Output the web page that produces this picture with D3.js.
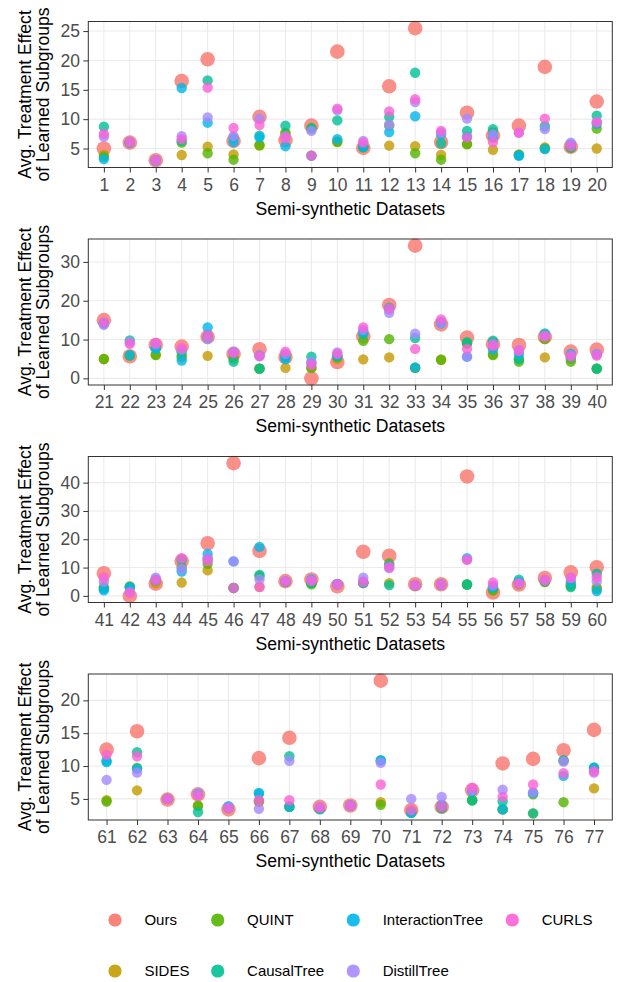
<!DOCTYPE html>
<html><head><meta charset="utf-8">
<script src="https://cdn.jsdelivr.net/npm/d3@7"></script>
<style>body{margin:0;background:#fff} text{font-family:"Liberation Sans", Arial, Helvetica, sans-serif}</style>
</head><body><svg id="c" width="624" height="982"></svg>
<script>
// ---- data ----
const methods = ["Ours","SIDES","QUINT","CausalTree","InteractionTree","DistillTree","CURLS"];
const colors  = ["#F8766D","#C49A00","#53B400","#00C094","#00B6EB","#A58AFF","#FB61D7"];
const datasets = d3.range(1, 78);
const panelRanges = [[1,20],[21,40],[41,60],[61,77]];
const yTicks = [[5,10,15,20,25],[0,10,20,30],[0,10,20,30,40],[5,10,15,20]];

const ours = [5.0,6.0,3.0,16.5,20.2,6.3,10.4,6.4,8.9,21.5,5.1,15.6,25.5,6.1,11.1,7.2,8.9,18.9,5.3,13.0,
 15.0,5.7,8.6,8.2,10.7,6.3,7.5,5.5,0.0,4.2,10.8,18.9,34.2,13.9,10.5,8.8,8.6,10.7,6.9,7.4,
 8.0,0.0,4.3,12.3,18.6,46.9,15.9,5.2,5.8,3.4,15.6,14.2,4.1,4.1,42.2,1.2,4.0,6.3,8.3,10.1,
 12.5,15.3,4.9,5.7,3.4,11.2,14.3,3.8,4.0,23.0,3.3,3.8,6.3,10.4,11.1,12.4,15.5];
const sides = [3.9,6.0,3.0,3.9,5.3,4.0,5.5,7.5,3.8,6.2,5.2,5.5,5.4,3.9,5.8,4.8,4.0,5.2,5.2,5.0,
 5.0,5.9,6.1,5.4,5.8,5.0,2.5,2.7,2.7,5.0,4.9,5.4,2.7,4.8,9.0,6.2,5.0,5.4,5.0,2.5,
 3.2,3.4,4.5,4.7,9.0,2.8,3.2,5.0,4.5,4.0,4.5,4.5,3.7,4.0,4.0,2.0,4.2,5.0,4.0,3.1,
 4.8,6.3,5.0,3.9,3.6,4.6,3.8,3.6,4.0,4.5,3.2,3.6,4.8,3.4,2.8,10.8,6.6];
const quint = [3.6,6.0,3.0,6.0,4.2,3.1,5.6,7.7,8.5,6.1,5.2,8.9,4.2,3.1,5.7,7.8,3.9,5.0,5.1,8.4,
 5.0,5.9,6.0,5.8,10.5,5.4,2.5,5.5,2.7,5.5,9.7,10.1,2.7,4.8,9.0,6.0,4.3,10.1,4.3,2.5,
 2.8,3.1,5.5,10.0,11.3,2.8,7.0,5.0,4.1,4.1,4.7,11.5,3.7,4.0,4.0,2.0,4.2,4.9,3.5,2.4,
 4.6,9.7,5.0,4.0,3.6,4.6,3.8,3.6,4.0,4.1,3.1,3.6,4.8,3.4,5.7,4.5,9.6];
const causalTree = [8.7,6.1,3.0,6.3,16.6,6.8,7.2,8.9,8.4,9.8,5.3,10.4,17.9,5.9,8.0,8.3,3.8,8.8,5.2,10.6,
 14.2,9.8,8.0,6.7,10.9,4.3,2.5,5.8,5.6,5.7,11.4,18.2,10.4,14.2,9.3,9.7,5.0,11.6,5.4,2.5,
 2.5,3.1,5.5,12.7,13.0,2.8,7.4,5.0,4.5,4.1,4.5,3.8,3.7,4.0,4.0,2.9,5.7,5.3,3.1,7.8,
 10.8,12.1,5.0,3.0,3.6,5.8,11.5,3.4,4.0,10.9,2.9,3.6,4.8,4.6,2.8,10.9,9.8];
const interactionTree = [3.2,6.0,2.9,15.3,9.4,6.1,6.9,5.4,3.8,6.6,5.3,7.8,10.5,7.4,7.0,7.0,3.8,4.9,5.7,9.2,
 14.1,6.0,7.6,4.6,13.1,6.7,5.9,5.0,4.0,5.9,12.0,17.8,2.8,14.4,5.6,7.4,6.3,11.1,6.3,6.2,
 2.0,3.0,5.8,8.6,14.8,12.2,17.3,5.1,5.8,4.2,5.0,10.7,3.8,4.0,13.3,3.1,4.9,5.5,4.9,1.7,
 10.6,9.6,5.0,5.8,3.9,5.9,3.8,3.6,4.0,10.8,2.9,4.0,6.2,3.4,5.9,8.5,9.7];
const distillTree = [7.0,6.1,3.0,7.1,10.3,7.1,10.1,7.1,8.0,11.5,6.3,9.1,12.9,7.7,10.1,7.4,7.7,8.3,6.0,9.5,
 13.8,9.3,8.8,7.4,10.1,6.9,5.7,6.3,4.3,6.7,12.5,16.9,11.5,14.2,5.6,8.8,7.3,11.0,5.9,6.2,
 5.0,1.3,6.4,9.5,13.5,12.2,5.8,5.2,5.5,4.1,6.4,9.8,3.7,4.0,12.9,3.7,4.5,5.5,6.4,5.2,
 7.9,9.0,5.0,5.8,3.7,3.5,10.8,3.8,4.0,10.5,5.0,5.3,6.3,6.4,6.0,10.7,9.0];
const curls = [7.5,6.1,3.0,6.6,15.4,8.5,9.0,6.8,3.8,11.8,6.0,11.3,13.4,8.0,6.9,6.1,7.7,10.1,5.4,9.5,
 14.5,8.9,9.1,7.8,11.1,6.5,5.8,6.9,3.5,6.3,13.1,18.0,7.6,15.2,7.6,8.4,7.1,10.8,5.7,5.9,
 6.5,1.0,5.5,13.3,12.4,2.8,3.1,5.1,5.3,4.0,4.9,10.2,3.8,4.0,12.7,4.7,4.3,5.6,6.4,6.6,
 11.7,11.5,5.0,5.5,3.6,4.8,4.8,3.7,4.0,7.2,3.3,3.8,6.7,5.3,7.2,8.9,9.2];
const series = [ours, sides, quint, causalTree, interactionTree, distillTree, curls];

// ---- layout ----
const svg = d3.select("#c");
svg.append("rect").attr("width",624).attr("height",982).attr("fill","#fff");
const L = 88.3, R = 612.3, H = 146;
const tops = [21.5, 239, 456.5, 674];
const tickFont = "17.5px", titleFont = "17.6px";

panelRanges.forEach((pr, pi) => {
  const [a, b] = pr;
  const top = tops[pi], bottom = top + H;
  const ds = datasets.filter(d => d >= a && d <= b);
  const vals = ds.flatMap(d => series.map(s => s[d-1]));
  const lo = d3.min(vals), hi = d3.max(vals), pad = (hi - lo) * 0.05;
  const x = d3.scaleLinear().domain([a - 0.6, b + 0.6]).range([L, R]);
  const y = d3.scaleLinear().domain([lo - pad, hi + pad]).range([bottom, top]);
  const g = svg.append("g");

  // grid
  g.append("g").selectAll("line").data(yTicks[pi]).join("line")
    .attr("x1", L).attr("x2", R).attr("y1", d => y(d)).attr("y2", d => y(d))
    .attr("stroke", "#EBEBEB").attr("stroke-width", 1.1);
  g.append("g").selectAll("line").data(ds).join("line")
    .attr("y1", top).attr("y2", bottom).attr("x1", d => x(d)).attr("x2", d => x(d))
    .attr("stroke", "#EBEBEB").attr("stroke-width", 1.1);

  // points
  methods.forEach((m, mi) => {
    g.append("g").selectAll("circle").data(ds).join("circle")
      .attr("cx", d => x(d)).attr("cy", d => y(series[mi][d-1]))
      .attr("r", mi === 0 ? 7.3 : 5.2)
      .attr("fill", colors[mi]).attr("fill-opacity", 0.8);
  });

  // border
  g.append("rect").attr("x", L).attr("y", top).attr("width", R - L).attr("height", H)
    .attr("fill", "none").attr("stroke", "#333333").attr("stroke-width", 1);

  // axes
  const xa = g.append("g").attr("transform", `translate(0,${bottom})`)
    .call(d3.axisBottom(x).tickValues(ds).tickSize(5).tickPadding(5.6).tickFormat(d3.format("d")));
  const ya = g.append("g").attr("transform", `translate(${L},0)`)
    .call(d3.axisLeft(y).tickValues(yTicks[pi]).tickSize(5).tickPadding(3.3).tickFormat(d3.format("d")));
  [xa, ya].forEach(ax => {
    ax.select(".domain").remove();
    ax.selectAll(".tick line").attr("stroke", "#333333").attr("stroke-width", 1);
    ax.selectAll(".tick text").attr("fill", "#4D4D4D").style("font-size", tickFont)
      .style("font-family", '"Liberation Sans", Arial, sans-serif');
  });

  // x title
  g.append("text").attr("x", (L + R) / 2).attr("y", bottom + 47)
    .attr("text-anchor", "middle").style("font-size", titleFont).attr("fill", "#000")
    .text("Semi-synthetic Datasets");

  // y title
  const yt = g.append("text").attr("transform", `translate(0,${(top + bottom) / 2}) rotate(-90)`)
    .attr("text-anchor", "middle").style("font-size", titleFont).attr("fill", "#000");
  yt.append("tspan").attr("x", 0).attr("y", 31).text("Avg. Treatment Effect");
  yt.append("tspan").attr("x", 0).attr("y", 49.3).text("of Learned Subgroups");
});

// legend
const legCols = [115, 217.7, 353.3, 512.3];
const legRows = [920, 971];
const leg = svg.append("g");
methods.forEach((m, i) => {
  const cx = legCols[Math.floor(i / 2)], cy = legRows[i % 2];
  leg.append("circle").attr("cx", cx).attr("cy", cy).attr("r", 6.6)
    .attr("fill", colors[i]).attr("fill-opacity", 0.9);
  leg.append("text").attr("x", cx + 29.4).attr("y", cy).attr("dy", "0.35em")
    .style("font-size", "15px").attr("fill", "#000").text(m);
});
</script></body></html>
